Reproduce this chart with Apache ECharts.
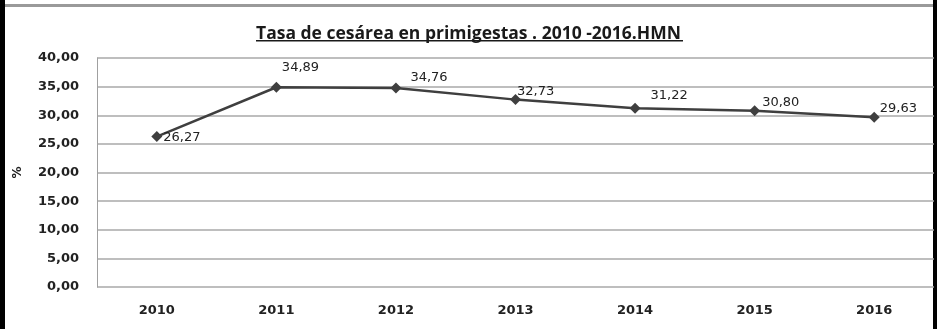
<!DOCTYPE html>
<html>
<head>
<meta charset="utf-8">
<script src="https://cdn.jsdelivr.net/npm/echarts@6/dist/echarts.min.js"></script>
<style>
  html, body { margin: 0; padding: 0; background: #fff; }
  #chart { width: 937px; height: 329px; }
</style>
</head>
<body>
<div id="chart"></div>
<script>
// Caesarean rate among first-time mothers, 2010-2016
const years = ['2010', '2011', '2012', '2013', '2014', '2015', '2016'];
const rates = [26.27, 34.89, 34.76, 32.73, 31.22, 30.80, 29.63];
const yTicks = [0, 5, 10, 15, 20, 25, 30, 35, 40];
const titleText = 'Tasa de cesárea en primigestas . 2010 -2016.HMN';

// label offsets beside each marker
const labelOffsets = [[1, 1], [0, -20], [9, -10], [-4, -8], [10, -13], [2, -8], [0, -9]];

const fmt = v => v.toFixed(2).replace('.', ',');

const chart = echarts.init(document.getElementById('chart'), null, { renderer: 'canvas' });

chart.setOption({
  animation: false,
  backgroundColor: '#ffffff',
  title: {
    text: titleText,
    left: 'center',
    top: 20,
    textStyle: {
      fontFamily: 'Open Sans',
      fontWeight: 'bold',
      fontSize: 17.5,
      color: '#1a1a1a'
    }
  },
  grid: { left: 97, right: 3, top: 58, bottom: 42 },
  xAxis: {
    type: 'category',
    data: years,
    boundaryGap: true,
    axisLine: { show: false },
    axisTick: { show: false },
    axisLabel: {
      margin: 17,
      fontFamily: 'DejaVu Sans',
      fontWeight: 'bold',
      fontSize: 13,
      color: '#222'
    }
  },
  yAxis: {
    type: 'value',
    min: yTicks[0],
    max: yTicks[yTicks.length - 1],
    interval: 5,
    name: '%',
    nameLocation: 'middle',
    nameGap: 73,
    nameRotate: 90,
    nameTextStyle: { fontFamily: 'DejaVu Sans', fontWeight: 'bold', fontSize: 12, color: '#222' },
    axisLine: { show: true, lineStyle: { color: '#a0a0a0', width: 1 } },
    axisTick: { show: false },
    splitLine: { lineStyle: { color: '#a8a8a8', width: 1.5 } },
    axisLabel: {
      margin: 18,
      formatter: v => fmt(v),
      fontFamily: 'DejaVu Sans',
      fontWeight: 'bold',
      fontSize: 13,
      color: '#222'
    }
  },
  series: [{
    type: 'line',
    data: rates.map((v, i) => ({
      value: v,
      label: { offset: labelOffsets[i] }
    })),
    symbol: 'diamond',
    symbolSize: 11,
    lineStyle: { color: '#3f3f3f', width: 2.5 },
    itemStyle: { color: '#3f3f3f' },
    label: {
      show: true,
      position: 'right',
      distance: 0,
      formatter: p => fmt(p.value),
      fontFamily: 'DejaVu Sans',
      fontSize: 13,
      color: '#222'
    }
  }],
  graphic: [
    { type: 'rect', shape: { x: 0, y: 0, width: 5, height: 329 }, style: { fill: '#000' } },
    { type: 'rect', shape: { x: 933, y: 0, width: 4, height: 329 }, style: { fill: '#000' } },
    { type: 'rect', shape: { x: 5, y: 4, width: 928, height: 3 }, style: { fill: '#9a9a9a' } },
    // title underline
    { type: 'rect', shape: { x: 256, y: 40, width: 427, height: 1.5 }, style: { fill: '#1a1a1a' } }
  ]
});
</script>
</body>
</html>
